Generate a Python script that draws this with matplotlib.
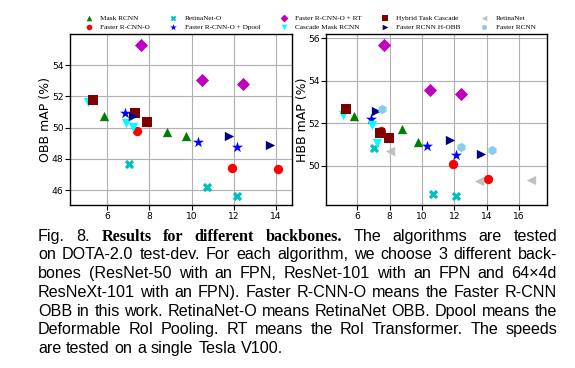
import matplotlib
matplotlib.use("Agg")
import matplotlib.pyplot as plt

# speed (x) vs accuracy (y), three backbones per method
methods = ["Mask RCNN", "Faster R-CNN-O", "RetinaNet-O", "Faster R-CNN-O + Dpool",
           "Faster R-CNN-O + RT", "Cascade Mask RCNN", "Hybrid Task Cascade",
           "Faster RCNN H-OBB", "RetinaNet", "Faster RCNN"]
markers = ["^", "o", "X", "*", "D", "v", "s", ">", "<", "h"]
colors = ["green", "red", "c", "blue", "m", "cyan", "maroon", "navy", "silver", "skyblue"]

# OBB panel
obb_x = {
    "Mask RCNN": [5.83, 8.81, 9.71],
    "Faster R-CNN-O": [7.41, 11.89, 14.11],
    "RetinaNet-O": [7.02, 10.73, 12.13],
    "Faster R-CNN-O + Dpool": [6.83, 10.32, 12.14],
    "Faster R-CNN-O + RT": [7.62, 10.49, 12.43],
    "Cascade Mask RCNN": [5.10, 6.90, 7.22],
    "Hybrid Task Cascade": [5.32, 7.30, 7.89],
    "Faster RCNN H-OBB": [7.21, 11.79, 13.70],
}
obb_y = {
    "Mask RCNN": [50.72, 49.70, 49.45],
    "Faster R-CNN-O": [49.81, 47.43, 47.33],
    "RetinaNet-O": [47.67, 46.17, 45.61],
    "Faster R-CNN-O + Dpool": [50.96, 49.08, 48.78],
    "Faster R-CNN-O + RT": [55.30, 53.06, 52.82],
    "Cascade Mask RCNN": [51.65, 50.28, 50.05],
    "Hybrid Task Cascade": [51.78, 50.96, 50.36],
    "Faster RCNN H-OBB": [50.72, 49.45, 48.90],
}

# HBB panel
hbb_x = {
    "Mask RCNN": [5.82, 8.79, 9.72],
    "Faster R-CNN-O": [7.44, 11.89, 14.07],
    "RetinaNet-O": [7.01, 10.70, 12.08],
    "Faster R-CNN-O + Dpool": [6.82, 10.31, 12.12],
    "Faster R-CNN-O + RT": [7.66, 10.52, 12.41],
    "Cascade Mask RCNN": [5.12, 6.94, 7.19],
    "Hybrid Task Cascade": [5.32, 7.38, 7.93],
    "Faster RCNN H-OBB": [7.15, 11.71, 13.66],
    "RetinaNet": [8.05, 13.52, 16.72],
    "Faster RCNN": [7.52, 12.41, 14.30],
}
hbb_y = {
    "Mask RCNN": [52.34, 51.72, 51.10],
    "Faster R-CNN-O": [51.63, 50.06, 49.37],
    "RetinaNet-O": [50.82, 48.65, 48.57],
    "Faster R-CNN-O + Dpool": [52.20, 50.93, 50.50],
    "Faster R-CNN-O + RT": [55.69, 53.55, 53.36],
    "Cascade Mask RCNN": [52.40, 51.90, 51.06],
    "Hybrid Task Cascade": [52.69, 51.56, 51.32],
    "Faster RCNN H-OBB": [52.59, 51.19, 50.53],
    "RetinaNet": [50.68, 49.28, 49.33],
    "Faster RCNN": [52.69, 50.90, 50.72],
}

caption_lines = [
    [("Fig. 8.", "sans"), ("Results for different backbones.", "bold"),
     ("The algorithms are tested", "sans")],
    [("on DOTA-2.0 test-dev. For each algorithm, we choose 3 different back-", "sans")],
    [("bones (ResNet-50 with an FPN, ResNet-101 with an FPN and 64×4d", "sans")],
    [("ResNeXt-101 with an FPN). Faster R-CNN-O means the Faster R-CNN", "sans")],
    [("OBB in this work. RetinaNet-O means RetinaNet OBB. Dpool means the", "sans")],
    [("Deformable RoI Pooling. RT means the RoI Transformer. The speeds", "sans")],
    [("are tested on a single Tesla V100.", "sans")],
]

W, H = 575, 368
fig = plt.figure(figsize=(W / 100, H / 100), dpi=100)

ax1 = fig.add_axes([70 / W, 1 - 205 / H, 221.5 / W, 171 / H])
ax2 = fig.add_axes([326 / W, 1 - 205 / H, 221.3 / W, 171 / H])

handles = []
for m, mk, c in zip(methods, markers, colors):
    s = 70 if mk == "*" else 45
    if m in obb_x:
        ax1.scatter(obb_x[m], obb_y[m], marker=mk, color=c, s=s, linewidths=0, zorder=3)
    h = ax2.scatter(hbb_x[m], hbb_y[m], marker=mk, color=c, s=s, linewidths=0,
                    zorder=3, label=m)
    handles.append(h)

ax1.set_xlim(4.235, 14.73)
ax1.set_ylim(45.04, 56.0)
ax1.set_xticks([6, 8, 10, 12, 14])
ax1.set_yticks([46, 48, 50, 52, 54])
ax1.set_ylabel("OBB mAP (%)", fontsize=9)
ax1.yaxis.set_label_coords(-0.082, 0.5)

ax2.set_xlim(4.07, 17.73)
ax2.set_ylim(48.15, 56.2)
ax2.set_xticks([6, 8, 10, 12, 14, 16])
ax2.set_yticks([50, 52, 54, 56])
ax2.set_ylabel("HBB mAP (%)", fontsize=9)
ax2.yaxis.set_label_coords(-0.076, 0.5)

for ax in (ax1, ax2):
    ax.grid(True, color="#b0b0b0", linewidth=0.8)
    ax.set_axisbelow(True)
    ax.tick_params(labelsize=6.6, length=3.5, width=0.8, pad=1.2)
    for sp in ax.spines.values():
        sp.set_linewidth(1.0)

fig.legend(handles=handles, labels=methods, ncol=5, loc="center",
           bbox_to_anchor=(310 / W, 1 - 22.5 / H), frameon=False,
           prop={"family": "Liberation Serif", "size": 5.2},
           markerscale=0.6, columnspacing=2.6, handletextpad=1.0,
           labelspacing=0.5, handlelength=1.2)

# justified caption, placed word by word
x0, x1 = 38, 557
base0, step = 240.7, 18.72
fsize = 11.6
fonts = {
    "sans": dict(family="Liberation Sans", size=fsize),
    "bold": dict(family="Liberation Serif", size=fsize, weight="bold"),
}
renderer = fig.canvas.get_renderer()
for i, line in enumerate(caption_lines):
    yb = 1 - (base0 + i * step) / H
    words = []
    for chunk, style in line:
        for w in chunk.split():
            t = fig.text(0, yb, w, va="baseline", ha="left", color="black", **fonts[style])
            words.append(t)
    widths = [t.get_window_extent(renderer).width for t in words]
    last = i == len(caption_lines) - 1
    if last or len(words) < 2:
        gap = 0.3 * fsize * 100 / 72
    else:
        gap = (x1 - x0 - sum(widths)) / (len(words) - 1)
    x = x0
    for t, wd in zip(words, widths):
        t.set_x(x / W)
        x += wd + gap

fig.savefig("out.png", dpi=100)
